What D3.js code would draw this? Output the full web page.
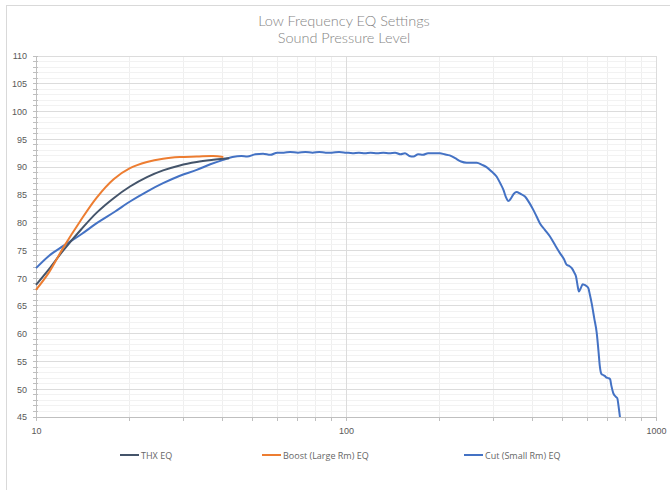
<!DOCTYPE html>
<html><head><meta charset="utf-8">
<script src="https://cdn.jsdelivr.net/npm/d3@7/dist/d3.min.js"></script>
<style>body{margin:0;background:#fff}svg{display:block;font-family:"Open Sans","Noto Sans",sans-serif}</style>
</head><body><svg id="c" width="670" height="490"></svg>
<script>
const titleLines = ["Low Frequency EQ Settings", "Sound Pressure Level"];
const seriesNames = ["THX EQ", "Boost (Large Rm) EQ", "Cut (Small  Rm) EQ"];
const seriesColors = ["#44546a", "#ed7d31", "#4472c4"];
const xTickLabels = [10, 100, 1000];
const yTickLabels = [45, 50, 55, 60, 65, 70, 75, 80, 85, 90, 95, 100, 105, 110];

const thxFreq = [10, 11, 12.25, 14, 15.7, 17.8, 20.1, 22.8, 25.7, 29.1, 33, 37.3, 40.2, 42];
const thxSpl  = [68.8, 71.6, 75.0, 78.8, 81.8, 84.4, 86.5, 88.2, 89.4, 90.3, 90.9, 91.3, 91.5, 91.6];

const boostFreq = [10, 11, 12.25, 13.9, 15.7, 17.8, 20.1, 22.8, 25.7, 29.1, 33, 37.3, 40.2];
const boostSpl  = [67.9, 71.0, 75.5, 80.3, 84.5, 87.8, 89.8, 90.9, 91.5, 91.8, 91.9, 92.0, 91.8];

const cutFreq = [10, 11, 12.25, 14, 15.7, 18, 20.1, 22.8, 25.7, 29, 33, 36.5, 40.2, 43, 46, 48, 51, 54, 57, 60, 63, 66, 70, 74, 78, 82, 86, 90, 95, 100, 105, 110, 115, 120, 126, 132, 138, 144, 150, 155, 160, 165, 171, 177, 184, 192, 201, 208, 216, 225, 235, 245, 255, 264, 275, 284, 295, 306, 315, 322, 328, 334, 340, 348, 355, 365, 378, 390, 402, 412, 422, 438, 455, 472, 490, 505, 515, 525, 535, 545, 552, 558, 564, 572, 580, 587, 596, 605, 612, 620, 632, 644, 652, 659, 666, 673, 683, 693, 702, 711, 718, 728, 740, 750, 757, 765];
const cutSpl  = [71.8, 74.0, 75.8, 77.9, 79.9, 82.0, 83.8, 85.6, 87.1, 88.4, 89.5, 90.5, 91.3, 91.8, 92.0, 91.9, 92.3, 92.4, 92.2, 92.6, 92.6, 92.7, 92.6, 92.7, 92.6, 92.7, 92.6, 92.6, 92.7, 92.6, 92.5, 92.6, 92.5, 92.6, 92.5, 92.6, 92.5, 92.6, 92.3, 92.5, 92.0, 91.9, 92.3, 92.2, 92.5, 92.5, 92.5, 92.3, 92.1, 91.6, 91.0, 90.8, 90.8, 90.8, 90.4, 90.0, 89.2, 88.3, 87.0, 85.9, 84.6, 83.9, 84.3, 85.2, 85.5, 85.2, 84.7, 83.6, 82.3, 81.1, 79.9, 78.7, 77.5, 76.0, 74.5, 73.4, 72.4, 72.2, 71.8, 71.0, 70.3, 68.8, 67.6, 68.2, 68.9, 68.8, 68.6, 68.2, 67.0, 65.5, 62.8, 60.1, 57.0, 54.1, 52.8, 52.6, 52.4, 52.1, 52.0, 51.8, 50.6, 49.3, 48.7, 48.4, 47.0, 45.0];

const svg = d3.select("#c");
const W = 670, H = 490;
const m = {l: 36, r: 14, t: 56, b: 73};

svg.append("rect").attr("x", 6.5).attr("y", 5.5).attr("width", 700).attr("height", 600)
  .attr("fill", "none").attr("stroke", "#d9d9d9").attr("stroke-width", 1);

const x = d3.scaleLog().domain([10, 1000]).range([m.l, W - m.r]);
const y = d3.scaleLinear().domain([45, 110]).range([H - m.b, m.t]);

svg.append("g").selectAll("text").data(titleLines).join("text")
  .attr("x", 344).attr("y", (d, i) => 26 + i * 16.5)
  .attr("text-anchor", "middle").attr("font-size", 14.5).attr("fill", "#858585")
  .attr("font-family", "Lato, 'Open Sans', sans-serif").attr("font-weight", 300)
  .text(d => d);

const minorX = [];
[10, 100].forEach(dec => { for (let k = 2; k <= 9; k++) minorX.push(dec * k); });
const minorY = d3.range(45, 111, 1).filter(v => v % 5 !== 0);
const g = svg.append("g");
g.selectAll(".mx").data(minorX).join("line")
  .attr("x1", d => x(d)).attr("x2", d => x(d)).attr("y1", y(45)).attr("y2", y(110))
  .attr("stroke", "#efefef").attr("stroke-width", 1).attr("shape-rendering", "crispEdges");
g.selectAll(".my").data(minorY).join("line")
  .attr("x1", m.l).attr("x2", W - m.r).attr("y1", d => y(d)).attr("y2", d => y(d))
  .attr("stroke", "#f2f2f2").attr("stroke-width", 1).attr("shape-rendering", "crispEdges");
g.selectAll(".My").data(yTickLabels).join("line")
  .attr("x1", m.l).attr("x2", W - m.r).attr("y1", d => y(d)).attr("y2", d => y(d))
  .attr("stroke", "#dcdcdc").attr("stroke-width", 1).attr("shape-rendering", "crispEdges");
g.selectAll(".Mx").data(xTickLabels).join("line")
  .attr("x1", d => x(d)).attr("x2", d => x(d)).attr("y1", y(45)).attr("y2", y(110))
  .attr("stroke", "#dcdcdc").attr("stroke-width", 1).attr("shape-rendering", "crispEdges");

const ax = svg.append("g").attr("transform", `translate(0,${y(45)})`)
  .call(d3.axisBottom(x).tickValues(xTickLabels).tickFormat(d3.format("d")).tickSize(0).tickPadding(11));
ax.select(".domain").attr("stroke", "#bfbfbf");
ax.selectAll("text").attr("fill", "#595959").attr("font-size", 9);
svg.append("g").selectAll("line").data(minorX.concat(xTickLabels)).join("line")
  .attr("x1", d => x(d)).attr("x2", d => x(d)).attr("y1", y(45)).attr("y2", y(45) + 4)
  .attr("stroke", "#bfbfbf").attr("shape-rendering", "crispEdges");

const ay = svg.append("g").attr("transform", `translate(${m.l},0)`)
  .call(d3.axisLeft(y).tickValues(yTickLabels).tickSize(0).tickPadding(9));
ay.select(".domain").attr("stroke", "#bfbfbf");
ay.selectAll("text").attr("fill", "#595959").attr("font-size", 9);
svg.append("g").selectAll("line").data(d3.range(45, 111, 1)).join("line")
  .attr("x1", m.l - 3).attr("x2", m.l + 2).attr("y1", d => y(d)).attr("y2", d => y(d))
  .attr("stroke", "#bfbfbf").attr("shape-rendering", "crispEdges");

const smooth = d3.line().x(d => x(d[0])).y(d => y(d[1])).curve(d3.curveCatmullRom.alpha(0.5));
const mono = d3.line().x(d => x(d[0])).y(d => y(d[1])).curve(d3.curveMonotoneX);
const data = [
  d3.zip(thxFreq, thxSpl),
  d3.zip(boostFreq, boostSpl),
  d3.zip(cutFreq, cutSpl)
];
const order = [2, 0, 1];
svg.append("g").selectAll("path").data(order).join("path")
  .attr("d", i => (i === 2 ? mono : smooth)(data[i])).attr("fill", "none")
  .attr("stroke", i => seriesColors[i]).attr("stroke-width", 2).attr("stroke-linejoin", "round");

const legX = [120, 262, 464];
const leg = svg.append("g").selectAll("g").data(seriesNames).join("g")
  .attr("transform", (d, i) => `translate(${legX[i]},455)`);
leg.append("line").attr("x1", 0).attr("x2", 19).attr("y1", 0).attr("y2", 0)
  .attr("stroke", (d, i) => seriesColors[i]).attr("stroke-width", 2);
leg.append("text").attr("x", 21).attr("y", 3.5).attr("font-size", 9).attr("fill", "#666").text(d => d);
</script></body></html>
